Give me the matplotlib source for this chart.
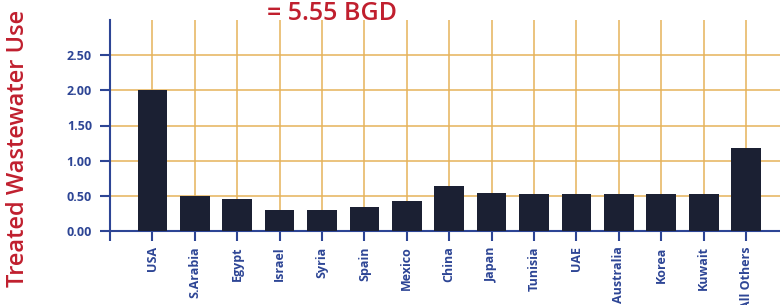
import matplotlib
matplotlib.use("Agg")
import matplotlib.pyplot as plt
import numpy as np

categories = ["USA", "S.Arabia", "Egypt", "Israel", "Syria", "Spain", "Mexico",
              "China", "Japan", "Tunisia", "UAE", "Australia", "Korea", "Kuwait", "All Others"]
values = [2.00, 0.50, 0.45, 0.30, 0.30, 0.34, 0.43, 0.64, 0.54, 0.52, 0.52, 0.52, 0.52, 0.52, 1.18]
yticks = [0.0, 0.5, 1.0, 1.5, 2.0, 2.5]
title = "= 5.55 BGD"
ylabel = "Treated Wastewater Use"

blue = "#2d4595"
red = "#c01f2e"
grid = "#e6b35a"
bar_c = "#1b2033"

plt.rcParams['font.family'] = ['Open Sans', 'DejaVu Sans']

fig = plt.figure(figsize=7.8 * np.array([1, 305 / 780]), dpi=100)
ax = fig.add_axes([110 / 780, 1 - 231 / 305, 1 - 110 / 780, (231 - 20) / 305])

x = np.arange(len(categories))
ax.bar(x, values, width=0.7, color=bar_c, zorder=3)

ax.set_xlim(-1, 14.8)
ax.set_ylim(0, 3.0)

for yv in yticks[1:]:
    ax.axhline(yv, color=grid, lw=1.1, zorder=1)
for xv in x:
    ax.axvline(xv, color=grid, lw=1.1, zorder=1)

ax.set_yticks(yticks)
ax.set_yticklabels([f"{v:.2f}" for v in yticks], fontsize=9, fontweight='bold', color=blue)
ax.set_xticks(x)
ax.set_xticklabels(categories, rotation=90, fontsize=9, fontweight='bold', color=blue)
ax.set_xticks([-1], minor=True)
ax.tick_params(axis='both', which='both', color=blue, width=1.5, length=7)
ax.tick_params(axis='x', pad=4)
ax.tick_params(axis='y', pad=6)

for s in ['top', 'right']:
    ax.spines[s].set_visible(False)
for s in ['left', 'bottom']:
    ax.spines[s].set_color(blue)
    ax.spines[s].set_linewidth(1.5)

fig.text(332 / 780, 1 - 13 / 305, title, color=red, fontsize=18, fontweight='semibold',
         ha='center', va='center')
fig.text(18 / 780, 1 - 148 / 305, ylabel, color=red, fontsize=17, fontweight='semibold',
         ha='center', va='center', rotation=90)

fig.savefig("out.png", dpi=100)
